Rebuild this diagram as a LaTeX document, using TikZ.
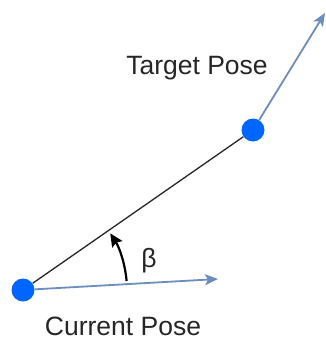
\documentclass[tikz,border=0pt]{standalone}
\usepackage{fontspec}
\setmainfont{Liberation Sans}
\usetikzlibrary{arrows.meta}
\definecolor{dotblue}{HTML}{0066FF}
\definecolor{arrowblue}{HTML}{6C8EBF}
\begin{document}
\begin{tikzpicture}[x=1pt,y=-1pt,
  dot/.style={circle,fill=dotblue,draw=none,minimum size=23pt,inner sep=0pt},
  vec/.style={draw=arrowblue,line width=1.8pt,-{Stealth[length=13pt,width=11pt,inset=3pt]}},
  lbl/.style={font=\fontsize{26.5}{32}\selectfont,text=black!85,inner sep=0pt}]
\useasboundingbox (0,0) rectangle (326,343);
\node[dot] (cur) at (23,290) {};
\node[dot] (tgt) at (253,130) {};
\coordinate (curtip) at (218,279);
\coordinate (tgttip) at (325,13);
\draw[black!85,line width=1.3pt] (cur) -- (tgt);
\draw[vec] (cur) -- (curtip);
\draw[vec] (tgt) -- (tgttip);
\draw[black,line width=2.2pt,-{Stealth[length=13pt,width=12pt,inset=2pt]}]
  ([shift={(-5:104)}]cur.center) arc[start angle=-5,end angle=-33,radius=104];
\node[lbl,anchor=base] (tl) at (197,74) {Target Pose};
\node[lbl,anchor=base] (cl) at (123,335) {Current Pose};
\node[lbl] (beta) at (149,261) {β};
\end{tikzpicture}
\end{document}
